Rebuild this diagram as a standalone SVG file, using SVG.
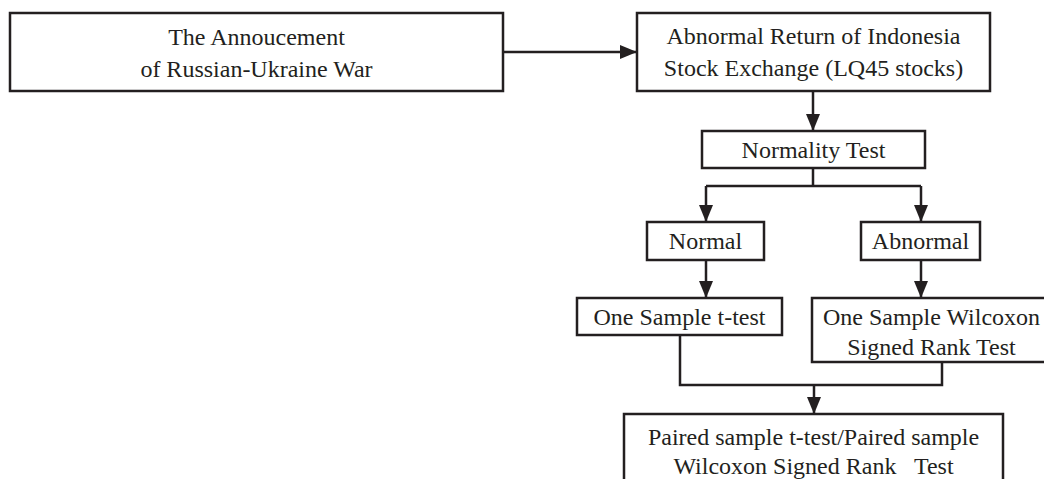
<svg xmlns="http://www.w3.org/2000/svg" width="1044" height="479" viewBox="0 0 1044 479">
<style>
  .box { fill: #ffffff; stroke: #231f20; stroke-width: 2.5; }
  .t { font-family: "Liberation Serif", "Times New Roman", serif; font-size: 24px; fill: #231f20; text-anchor: middle; white-space: pre; }
  .c { fill: none; stroke: #231f20; stroke-width: 2.5; }
</style>
<defs>
  <marker id="arr" markerUnits="userSpaceOnUse" markerWidth="17" markerHeight="14" refX="17" refY="7" orient="auto">
    <path d="M0,0 L17,7 L0,14 Z" fill="#231f20"/>
  </marker>
</defs>
<rect width="1044" height="479" fill="#ffffff"/>
<g id="connectors">
  <line class="c" x1="503" y1="52" x2="637" y2="52" marker-end="url(#arr)"/>
  <line class="c" x1="813" y1="91" x2="813" y2="131" marker-end="url(#arr)"/>
  <polyline class="c" points="813,168 813,186"/>
  <polyline class="c" points="706,186 921,186"/>
  <line class="c" x1="706" y1="186" x2="706" y2="222" marker-end="url(#arr)"/>
  <line class="c" x1="921" y1="186" x2="921" y2="222" marker-end="url(#arr)"/>
  <line class="c" x1="706" y1="260" x2="706" y2="298" marker-end="url(#arr)"/>
  <line class="c" x1="921" y1="260" x2="921" y2="298" marker-end="url(#arr)"/>
  <polyline class="c" points="680,335 680,385 942,385 942,362"/>
  <line class="c" x1="814" y1="385" x2="814" y2="414" marker-end="url(#arr)"/>
</g>
<g id="announcement">
  <rect class="box" x="10" y="13" width="493" height="78"/>
  <text class="t" x="256.5" y="45">The Annoucement</text>
  <text class="t" x="256.5" y="77">of Russian-Ukraine War</text>
</g>
<g id="abnormal-return">
  <rect class="box" x="637" y="13" width="353" height="78"/>
  <text class="t" x="813.5" y="44">Abnormal Return of Indonesia</text>
  <text class="t" x="813.5" y="76">Stock Exchange (LQ45 stocks)</text>
</g>
<g id="normality-test">
  <rect class="box" x="702" y="131" width="223" height="37"/>
  <text class="t" x="813.5" y="158">Normality Test</text>
</g>
<g id="normal">
  <rect class="box" x="647" y="222" width="117" height="38"/>
  <text class="t" x="705.5" y="249">Normal</text>
</g>
<g id="abnormal">
  <rect class="box" x="861" y="222" width="119" height="38"/>
  <text class="t" x="920.5" y="249">Abnormal</text>
</g>
<g id="one-sample-t-test">
  <rect class="box" x="577" y="298" width="205" height="37"/>
  <text class="t" x="679.5" y="325">One Sample t-test</text>
</g>
<g id="one-sample-wilcoxon">
  <rect class="box" x="812" y="298" width="240" height="64"/>
  <text class="t" x="931.5" y="325">One Sample Wilcoxon</text>
  <text class="t" x="931.5" y="355">Signed Rank Test</text>
</g>
<g id="paired-sample">
  <rect class="box" x="624" y="414" width="379" height="80"/>
  <text class="t" x="813.5" y="445">Paired sample t-test/Paired sample</text>
  <text class="t" x="813.5" y="474">Wilcoxon Signed Rank   Test</text>
</g>
</svg>
